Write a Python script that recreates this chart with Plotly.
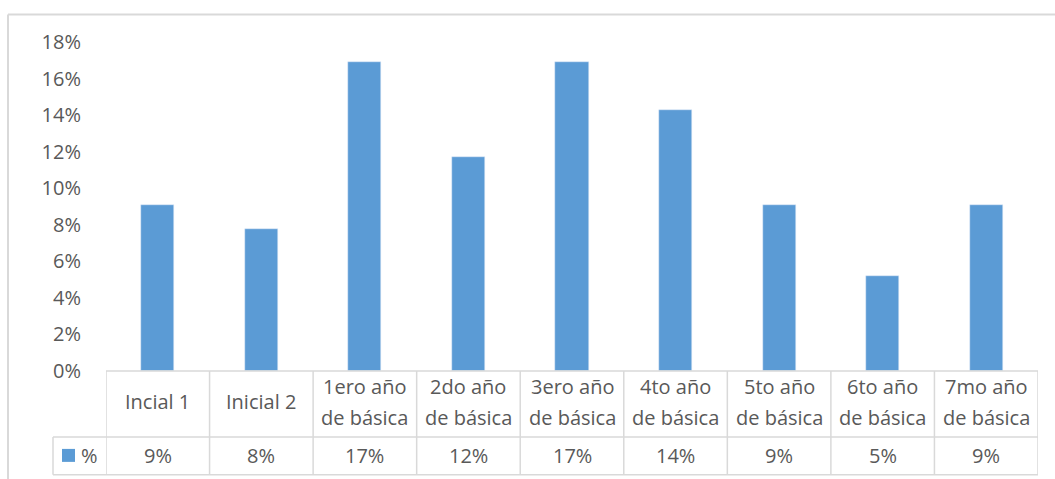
import plotly.graph_objects as go

categories = ["Incial 1", "Inicial 2", "1ero año de básica", "2do año de básica",
              "3ero año de básica", "4to año de básica", "5to año de básica",
              "6to año de básica", "7mo año de básica"]
cat_lines = [["Incial 1"], ["Inicial 2"], ["1ero año", "de básica"], ["2do año", "de básica"],
             ["3ero año", "de básica"], ["4to año", "de básica"], ["5to año", "de básica"],
             ["6to año", "de básica"], ["7mo año", "de básica"]]
values = [0.0909, 0.0779, 0.1688, 0.1169, 0.1688, 0.1429, 0.0909, 0.0519, 0.0909]
value_labels = ["9%", "8%", "17%", "12%", "17%", "14%", "9%", "5%", "9%"]
series_name = "%"
y_ticks = [0, 0.02, 0.04, 0.06, 0.08, 0.10, 0.12, 0.14, 0.16, 0.18]

W, H = 1055, 479
L, R = 106, 1038          # plot area pixel x
T, B = 41.6, 371          # plot area pixel y
BLUE = "#5B9BD5"
TXT = "#595959"
GRID = "#D9D9D9"
FONT = "'Open Sans', Lato, sans-serif"
FS = 20
LINE_H = 31               # line spacing of category cell text, px
CAT_MID = 402             # vertical centre of category row, px

def px_x(X):
    return (X - L) / (R - L)

def px_y(Y):
    return (B - Y) / (B - T)

n = len(categories)
fig = go.Figure(go.Bar(x=list(range(n)), y=values, marker_color=BLUE, width=0.32,
                       name=series_name, showlegend=False))

shapes = []
line = dict(color=GRID, width=1.5)
# table horizontal lines
shapes.append(dict(type="line", xref="paper", yref="paper", x0=0, x1=1, y0=px_y(B), y1=px_y(B), line=line))
shapes.append(dict(type="line", xref="paper", yref="paper", x0=px_x(53), x1=1, y0=px_y(437), y1=px_y(437), line=line))
shapes.append(dict(type="line", xref="paper", yref="paper", x0=px_x(53), x1=1, y0=px_y(475), y1=px_y(475), line=line))
# vertical lines
for k in range(n + 1):
    shapes.append(dict(type="line", xref="x", yref="paper", x0=k - 0.5, x1=k - 0.5,
                       y0=px_y(B), y1=px_y(475), line=line))
shapes.append(dict(type="line", xref="paper", yref="paper", x0=px_x(53), x1=px_x(53),
                   y0=px_y(437), y1=px_y(475), line=line))
# legend key square
shapes.append(dict(type="rect", xref="paper", yref="paper", x0=px_x(62), x1=px_x(75),
                   y0=px_y(462), y1=px_y(449), fillcolor=BLUE, line=dict(width=0)))
# outer chart border (top and left visible)
border = dict(color=GRID, width=2)
shapes.append(dict(type="line", xref="paper", yref="paper", x0=px_x(8), x1=px_x(1060),
                   y0=px_y(14), y1=px_y(14), line=border))
shapes.append(dict(type="line", xref="paper", yref="paper", x0=px_x(8), x1=px_x(8),
                   y0=px_y(14), y1=px_y(485), line=border))

annotations = []
txtfont = dict(family=FONT, size=FS, color=TXT)
for i, lines in enumerate(cat_lines):
    m = len(lines)
    for j, s in enumerate(lines):
        yc = CAT_MID + (j - (m - 1) / 2) * LINE_H
        annotations.append(dict(x=i, y=px_y(yc), xref="x", yref="paper", text=s,
                                showarrow=False, xanchor="center", yanchor="middle", font=txtfont))
    annotations.append(dict(x=i, y=px_y(456), xref="x", yref="paper", text=value_labels[i],
                            showarrow=False, xanchor="center", yanchor="middle", font=txtfont))
annotations.append(dict(x=px_x(89), y=px_y(456), xref="paper", yref="paper", text=series_name,
                        showarrow=False, xanchor="center", yanchor="middle", font=txtfont))

fig.update_layout(
    width=W, height=H,
    margin=dict(l=L, r=W - R, t=T, b=H - B),
    plot_bgcolor="white", paper_bgcolor="white",
    xaxis=dict(range=[-0.5, n - 0.5], showticklabels=False, showgrid=False, zeroline=False,
               showline=False, ticks=""),
    yaxis=dict(range=[0, 0.18], tickvals=y_ticks, tickformat=".0%", showgrid=False,
               zeroline=False, showline=False, ticks="", ticklabelstandoff=24,
               tickfont=txtfont),
    shapes=shapes, annotations=annotations,
    bargap=0,
)

fig.write_html("out.html")
